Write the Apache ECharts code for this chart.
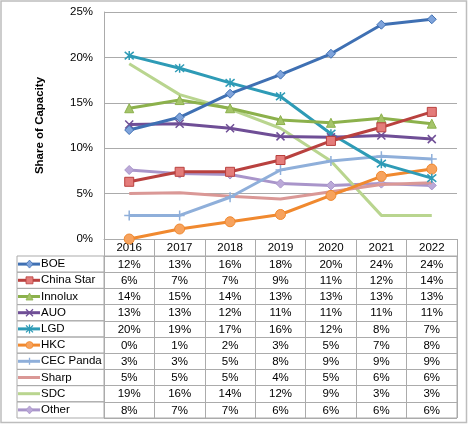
<!DOCTYPE html>
<html>
<head>
<meta charset="utf-8">
<script src="https://cdn.jsdelivr.net/npm/echarts@6/dist/echarts.min.js"></script>
<style>
html,body{margin:0;padding:0;background:#fff;}
#c{width:469px;height:425px;}
</style>
</head>
<body>
<div id="c"></div>
<script>
// ---- data ----
const years = ['2016','2017','2018','2019','2020','2021','2022'];
const names = ['BOE','China Star','Innolux','AUO','LGD','HKC','CEC Panda','Sharp','SDC','Other'];
const boe       = [12.0, 13.4, 16.0, 18.1, 20.4, 23.6, 24.2];
const chinaStar = [6.3, 7.4, 7.4, 8.7, 10.8, 12.3, 14.0];
const innolux   = [14.4, 15.3, 14.4, 13.1, 12.8, 13.3, 12.7];
const auo       = [12.6, 12.7, 12.2, 11.3, 11.2, 11.4, 11.0];
const lgd       = [20.2, 18.8, 17.2, 15.7, 11.6, 8.3, 6.7];
const hkc       = [0.0, 1.1, 1.9, 2.7, 4.8, 6.9, 7.7];
const cecPanda  = [2.6, 2.6, 4.6, 7.6, 8.6, 9.1, 8.8];
const sharp     = [5.0, 5.1, 4.7, 4.4, 5.2, 6.0, 6.2];
const sdc       = [19.3, 15.9, 14.3, 12.2, 8.6, 2.6, 2.6];
const other     = [7.6, 7.2, 7.1, 6.1, 5.9, 6.1, 5.9];
const yTicks    = [0, 5, 10, 15, 20, 25];

const values = [boe, chinaStar, innolux, auo, lgd, hkc, cecPanda, sharp, sdc, other];

// ---- styles ----
const lineColors = ['#3F70B3','#B9413F','#8CB14C','#6F4E96','#2E9BB6','#F0892F','#8FAFDA','#DA9896','#B9D58F','#A995CA'];
const markFill   = ['#7EA3DB','#E47C7A','#A5C46A','#8468A8','#4BB4CF','#F7A35E','#9DB9E0','#DA9896','#B9D58F','#BBA9D8'];
const P_X    = 'path://M0,0L10,10M10,0L0,10';
const P_STAR = 'path://M0,0L10,10M10,0L0,10M5,-1L5,11';
const P_PLUS = 'path://M5,0L5,10M0,5L10,5';
const symbols = ['diamond','rect','triangle',P_X,P_STAR,'circle',P_PLUS,'none','none','diamond'];
const symSizes = [9, 9, 9, 8, 9, 10, 10, 0, 0, 9];
const FONT = 'Liberation Sans, Arial, sans-serif';
const GRID_C = '#ABABAB';

const chart = echarts.init(document.getElementById('c'), null, {renderer:'canvas'});

const lineSeries = values.map((v, k) => ({
  name: names[k],
  type: 'line',
  xAxisIndex: 0, yAxisIndex: 0,
  data: v,
  symbol: symbols[k],
  symbolSize: symSizes[k],
  showSymbol: symbols[k] !== 'none',
  lineStyle: {color: lineColors[k], width: 3},
  itemStyle: {color: markFill[k], borderColor: lineColors[k], borderWidth: (typeof symbols[k]==='string' && symbols[k].startsWith('path://')) ? 1.5 : 1},
  z: 3 + (10 - k),
  animation: false
}));

function markerShape(k, cx, cy) {
  const s = symbols[k];
  const c = lineColors[k], f = markFill[k];
  const h = 3.5;
  if (s === 'none') return null;
  if (s === 'diamond') return {type:'polygon', shape:{points:[[cx,cy-h-0.5],[cx+h,cy],[cx,cy+h+0.5],[cx-h,cy]]}, style:{fill:f, stroke:c, lineWidth:0.8}};
  if (s === 'rect') return {type:'rect', shape:{x:cx-h,y:cy-h,width:2*h,height:2*h}, style:{fill:f, stroke:c, lineWidth:0.8}};
  if (s === 'triangle') return {type:'polygon', shape:{points:[[cx,cy-h],[cx+h,cy+h],[cx-h,cy+h]]}, style:{fill:f, stroke:c, lineWidth:0.8}};
  if (s === 'circle') return {type:'circle', shape:{cx:cx,cy:cy,r:h}, style:{fill:f, stroke:c, lineWidth:0.8}};
  let d;
  if (s === P_X) d = `M${cx-h},${cy-h}L${cx+h},${cy+h}M${cx+h},${cy-h}L${cx-h},${cy+h}`;
  else if (s === P_STAR) d = `M${cx-h},${cy-h}L${cx+h},${cy+h}M${cx+h},${cy-h}L${cx-h},${cy+h}M${cx},${cy-h-1}L${cx},${cy+h+1}`;
  else d = `M${cx},${cy-h}L${cx},${cy+h}M${cx-h},${cy}L${cx+h},${cy}`;
  return {type:'path', shape:{pathData:d}, style:{fill:null, stroke:c, lineWidth:1.3}};
}

// legend-column of the data table
const legendSeries = {
  type: 'custom',
  xAxisIndex: 1, yAxisIndex: 1,
  data: names.map((n, k) => [0, k]),
  renderItem: function (params, api) {
    const k = api.value(1);
    const cs = params.coordSys;
    const cy = api.coord([0, k])[1];
    const rh = api.size([0, 1])[1];
    const x0 = cs.x - 87;
    const children = [
      {type:'line', shape:{x1:x0, y1:cy-rh/2, x2:cs.x, y2:cy-rh/2}, style:{stroke:GRID_C, lineWidth:1}},
      {type:'line', shape:{x1:x0, y1:cy+rh/2, x2:cs.x, y2:cy+rh/2}, style:{stroke:GRID_C, lineWidth:1}},
      {type:'line', shape:{x1:x0, y1:cy-rh/2, x2:x0, y2:cy+rh/2}, style:{stroke:GRID_C, lineWidth:1}},
      {type:'line', shape:{x1:x0+1, y1:cy, x2:x0+23, y2:cy}, style:{stroke:lineColors[k], lineWidth:3}}
    ];
    const m = markerShape(k, x0 + 12.5, cy);
    if (m) children.push(m);
    return {type:'group', children: children};
  },
  animation: false
};

// value cells of the data table
const cellData = [];
values.forEach((v, k) => v.forEach((val, i) => cellData.push([i, k, val])));
const cellSeries = {
  type: 'custom',
  xAxisIndex: 1, yAxisIndex: 1,
  data: cellData,
  renderItem: function (params, api) {
    const p = api.coord([api.value(0), api.value(1)]);
    return {type:'text', x: p[0], y: p[1] + 0.5,
      style:{text: Math.round(api.value(2)) + '%', align:'center', verticalAlign:'middle', textAlign:'center', textVerticalAlign:'middle', fill:'#000', fontSize:11.5, fontFamily:FONT}};
  },
  animation: false
};

chart.setOption({
  backgroundColor: '#fff',
  animation: false,
  textStyle: {fontFamily: FONT},
  graphic: [{type:'rect', shape:{x:1, y:1, width:465.5, height:421.5}, style:{fill:null, stroke:'#BDBDBD', lineWidth:1.5}, silent:true}],
  grid: [
    {left:104, top:12, width:353, height:227},
    {left:104, top:256, width:353, height:162, show:true, borderColor:GRID_C, borderWidth:1}
  ],
  xAxis: [
    {type:'category', gridIndex:0, data:years, boundaryGap:true,
     axisLine:{lineStyle:{color:GRID_C}},
     axisTick:{show:true, length:17, interval:0, lineStyle:{color:GRID_C}},
     axisLabel:{color:'#000', fontSize:11.5, margin:3, fontFamily:FONT}},
    {type:'category', gridIndex:1, data:years, boundaryGap:true, position:'top',
     axisLine:{show:true, lineStyle:{color:GRID_C}}, axisTick:{show:false}, axisLabel:{show:false},
     splitLine:{show:true, interval:0, lineStyle:{color:GRID_C}}}
  ],
  yAxis: [
    {type:'value', gridIndex:0, min:yTicks[0], max:yTicks[yTicks.length-1], interval:5,
     name:'Share of Capacity', nameLocation:'middle', nameGap:58, nameRotate:90,
     nameTextStyle:{color:'#000', fontSize:11.5, fontWeight:'bold', fontFamily:FONT},
     axisLine:{show:true, lineStyle:{color:GRID_C}}, axisTick:{show:false},
     axisLabel:{color:'#000', fontSize:11.5, margin:11, formatter:'{value}%', fontFamily:FONT},
     splitLine:{show:true, lineStyle:{color:GRID_C}}},
    {type:'category', gridIndex:1, data:names, inverse:true,
     axisLine:{show:true, lineStyle:{color:GRID_C}}, axisTick:{show:false},
     axisLabel:{color:'#000', fontSize:11.5, align:'left', margin:63, fontFamily:FONT},
     splitLine:{show:true, interval:0, lineStyle:{color:GRID_C}}}
  ],
  series: lineSeries.concat([legendSeries, cellSeries])
});
</script>
</body>
</html>
